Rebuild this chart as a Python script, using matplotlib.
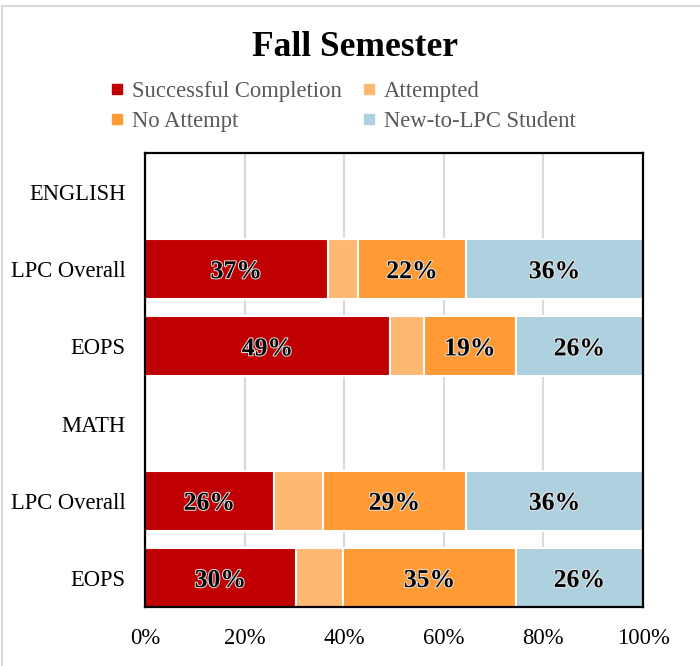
#!/usr/bin/env python3

from matplotlib import pyplot as pl
from matplotlib import patheffects as pe
from matplotlib.lines import Line2D
import numpy as np

pl.rcParams['font.family'] = ['Liberation Serif', 'DejaVu Serif']

rows = ['ENGLISH', 'LPC Overall', 'EOPS', 'MATH', 'LPC Overall', 'EOPS']
series = ['Successful Completion', 'Attempted', 'No Attempt', 'New-to-LPC Student']
colors = ['#C00000', '#FFB871', '#FF9A35', '#AED1E0']

# fraction of students (0-1); the ENGLISH / MATH header rows are empty
completed = [0, 0.367, 0.492, 0, 0.259, 0.303]
attempted = [0, 0.061, 0.068, 0, 0.098, 0.095]
no_attempt = [0, 0.217, 0.185, 0, 0.288, 0.347]
new_student = [0, 0.355, 0.255, 0, 0.355, 0.255]

labels = [
    ['', '37%', '49%', '', '26%', '30%'],
    ['', '', '', '', '', ''],
    ['', '22%', '19%', '', '29%', '35%'],
    ['', '36%', '26%', '', '36%', '26%'],
]

fig = pl.figure(figsize=(7, 6.66), dpi=100)
ax = fig.add_axes([145 / 700, 1 - 607 / 666, 498 / 700, 454 / 666])

y = np.arange(len(rows))
left = np.zeros(len(rows))
for vals, col, name, labs in zip([completed, attempted, no_attempt, new_student],
                                 colors, series, labels):
    vals = np.array(vals)
    bars = ax.barh(y, vals, left=left, height=0.78, color=col,
                   edgecolor='white', linewidth=1.5, label=name, zorder=2)
    for b, lab in zip(bars, labs):
        if lab:
            ax.text(b.get_x() + b.get_width() / 2, b.get_y() + b.get_height() / 2,
                    lab, ha='center', va='center_baseline', fontsize=18.5,
                    fontweight='bold', color='black', zorder=3,
                    path_effects=[pe.withStroke(linewidth=1.4, foreground='#E6E6E6')])
    left += vals

ax.set_xlim(0, 1)
ax.set_ylim(5.376, -0.505)
ax.set_yticks(y)
ax.set_yticklabels(rows, fontsize=16.3)
ax.set_xticks(np.linspace(0, 1, 6))
ax.set_xticklabels(['0%', '20%', '40%', '60%', '80%', '100%'], fontsize=16.3)
ax.tick_params(axis='y', length=0, pad=14)
ax.tick_params(axis='x', length=0, pad=15)
ax.grid(axis='x', color='#D9D9D9', linewidth=1.5, zorder=0)
ax.set_axisbelow(True)
for s in ax.spines.values():
    s.set_linewidth(1.6)
    s.set_color('black')

fig.text(355 / 700, 1 - 47 / 666, 'Fall Semester', ha='center', va='center',
         fontsize=25.5, fontweight='bold')

# legend filled column-wise, so order it to read row-wise like the original
order = [0, 2, 1, 3]
handles = [Line2D([], [], marker='s', linestyle='none', markersize=6.5,
                  markerfacecolor=colors[i], markeredgecolor=colors[i]) for i in order]
fig.legend(handles, [series[i] for i in order], loc='upper left',
           bbox_to_anchor=(110 / 700, 1 - 81 / 666),
           ncol=2, frameon=False, fontsize=16.3, labelcolor='#595959',
           handlelength=0.6, handletextpad=0.35, columnspacing=0.93,
           labelspacing=0.4, borderaxespad=0, borderpad=0)

# chart area border (only top and left edges are visible in the crop)
fig.add_artist(Line2D([2 / 700, 2 / 700], [0, 1 - 6 / 666], color='#D9D9D9',
                      linewidth=1.5, transform=fig.transFigure))
fig.add_artist(Line2D([2 / 700, 1], [1 - 6 / 666, 1 - 6 / 666], color='#D9D9D9',
                      linewidth=1.5, transform=fig.transFigure))

fig.savefig('out.png')
